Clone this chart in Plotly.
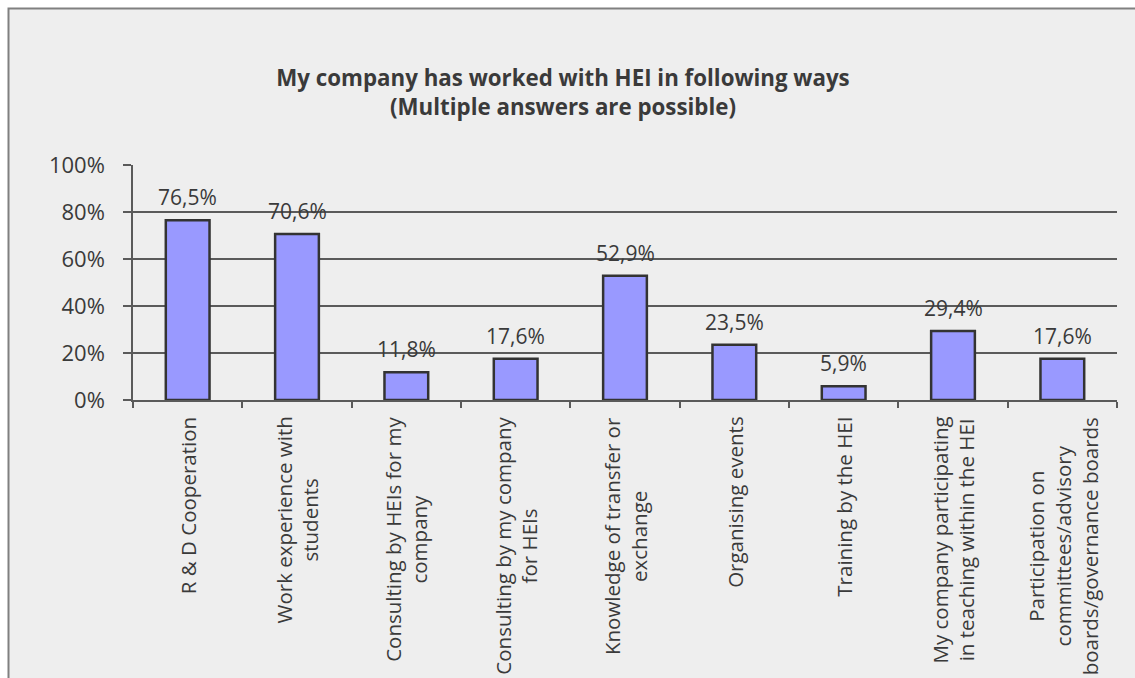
import plotly.graph_objects as go

# Survey results: ways companies have worked with HEIs (share of respondents, %)
categories = [
    "R & D Cooperation",
    "Work experience with students",
    "Consulting by HEIs for my company",
    "Consulting by my company for HEIs",
    "Knowledge of transfer or exchange",
    "Organising events",
    "Training by the HEI",
    "My company participating in teaching within the HEI",
    "Participation on committees/advisory boards/governance boards",
]
axis_labels = [
    "R &amp; D Cooperation",
    "Work experience with<br>students",
    "Consulting by HEIs for my<br>company",
    "Consulting by my company<br>for HEIs",
    "Knowledge of transfer or<br>exchange",
    "Organising events",
    "Training by the HEI",
    "My company participating<br>in teaching within the HEI",
    "Participation on<br>committees/advisory<br>boards/governance boards",
]
values = [76.5, 70.6, 11.8, 17.6, 52.9, 23.5, 5.9, 29.4, 17.6]
y_ticks = [0, 20, 40, 60, 80, 100]

W, H = 1135, 678
M_L, M_R, M_T, M_B = 133, 18, 165, 278
PW, PH = W - M_L - M_R, H - M_T - M_B

FONT = "Open Sans"
TXT = "#3a3a3a"
GRID = "#5a5a5a"

labels = [f"{v:.1f}%".replace(".", ",") for v in values]

fig = go.Figure(
    go.Bar(
        x=categories,
        y=values,
        marker=dict(color="#9999FF", line=dict(color="#333333", width=2.5)),
        width=0.4,
    )
)

# value labels above the bars
for cat, v, lab in zip(categories, values, labels):
    fig.add_annotation(
        x=cat, y=v, xref="x", yref="y",
        text=lab, showarrow=False,
        xanchor="center", yanchor="bottom", yshift=7,
        font=dict(family=FONT, size=21, color=TXT),
    )

# rotated, centred category labels under the axis
for cat, lab in zip(categories, axis_labels):
    fig.add_annotation(
        x=cat, xref="x",
        y=-(15 / PH), yref="paper",
        text=lab, textangle=-90,
        showarrow=False, align="center",
        xanchor="center", yanchor="top",
        font=dict(family=FONT, size=20.5, color=TXT),
    )

# chart area frame with grey fill
fig.add_shape(
    type="rect", xref="paper", yref="paper", layer="below",
    x0=-(M_L - 8.5) / PW, x1=(W + 20 - M_L) / PW,
    y0=-(M_B + 20) / PH, y1=1 + (M_T - 8.5) / PH,
    fillcolor="#EEEEEE", line=dict(color="#808080", width=2),
)

fig.update_layout(
    width=W, height=H,
    margin=dict(l=M_L, r=M_R, t=M_T, b=M_B, pad=0),
    paper_bgcolor="white",
    plot_bgcolor="rgba(0,0,0,0)",
    showlegend=False,
    bargap=0.6,
    title=dict(
        text="<b>My company has worked with HEI in following ways<br>(Multiple answers are possible)</b>",
        x=563 / W, xanchor="center", xref="container",
        y=1 - 86 / H, yanchor="top", yref="container",
        font=dict(family=FONT, size=22.3, color=TXT),
    ),
    xaxis=dict(
        showticklabels=False,
        tickson="boundaries",
        ticks="outside", ticklen=6, tickcolor=GRID, tickwidth=1.5,
        showline=True, linecolor=GRID, linewidth=1.5,
        showgrid=False, zeroline=False,
    ),
    yaxis=dict(
        range=[0, 100],
        tickvals=y_ticks,
        ticktext=[f"{t}%" for t in y_ticks],
        ticks="outside", ticklen=8, tickcolor=GRID, tickwidth=1.5,
        ticklabelstandoff=14,
        showline=True, linecolor=GRID, linewidth=1.5,
        showgrid=True, gridcolor=GRID, gridwidth=1.5,
        zeroline=False,
        tickfont=dict(family=FONT, size=22, color=TXT),
    ),
)

fig.write_html("out.html")
